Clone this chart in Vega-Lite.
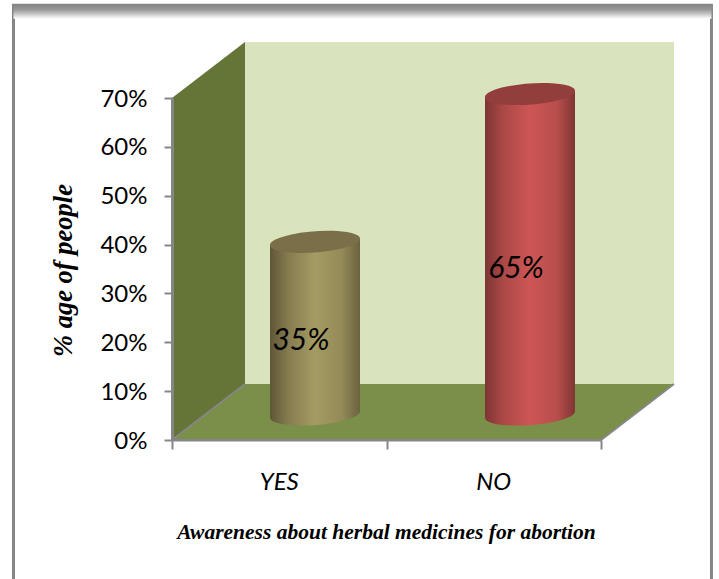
{
"$schema":"https://vega.github.io/schema/vega-lite/v6.json",
"width":429,"height":342,
"autosize":{"type":"none"},
"padding":{"left":172,"top":98,"right":118,"bottom":139},
"background":"white",
"config":{"view":{"stroke":null}},
"datasets":{
"frame":[{"x":-0.739,"x2":2.515,"y":89.0,"y2":-30}],
"band":[{"x":-0.739,"x2":2.515,"y":89.0,"y2":86.2}],
"back":[{"x":0.3403,"x2":2.3403,"y":11.46,"y2":81.46}],
"leftwall":[{"x":0,"y":0,"y2":70},{"x":0.3403,"y":11.46,"y2":81.46}],
"floor":[{"x":0,"y":0,"y2":0},{"x":0.3403,"y":0,"y2":11.46},{"x":2,"y":0,"y2":11.46},{"x":2.3403,"y":11.46,"y2":11.46}],
"edges":[{"edge":"left","x":0,"y":0},{"edge":"left","x":0.3403,"y":11.46},{"edge":"right","x":2,"y":0},{"edge":"right","x":2.3403,"y":11.46},{"edge":"front","x":0,"y":0},{"edge":"front","x":2,"y":0}],
"yesBody":[{"x":0.4569,"y":4.5,"y2":39.9},{"x":0.8765,"y":5.94,"y2":41.14}],
"noBody":[{"x":1.4592,"y":4.5,"y2":70.2},{"x":1.8788,"y":5.94,"y2":71.43}],
"yesBase":[{"x":0.6667,"y":5.22}],
"noBase":[{"x":1.669,"y":5.22}],
"yesTop":[{"x":0.6667,"y":40.55}],
"noTop":[{"x":1.669,"y":70.82}],
"values":[{"x":0.6014,"y":20.3,"label":"35%"},{"x":1.6037,"y":35.0,"label":"65%"}],
"cats":[{"x":0.5,"y":-8.8,"label":"YES"},{"x":1.5,"y":-8.8,"label":"NO"}]
},
"data":{"name":"frame"},
"encoding":{
"x":{"field":"x","type":"quantitative","scale":{"domain":[0,2],"nice":false,"zero":false},
"axis":{"values":[0,1,2],"labels":false,"grid":false,"domainColor":"#868686","domainWidth":2,"tickColor":"#868686","tickWidth":2,"tickSize":9,
"title":"Awareness about herbal medicines for abortion","titleFont":"Liberation Serif","titleFontStyle":"italic","titleFontWeight":"bold","titleFontSize":21.5,"titleColor":"#000","titleX":214,"titleY":81,"titleAnchor":"middle","zindex":1}},
"y":{"field":"y","type":"quantitative","stack":null,"scale":{"domain":[0,70],"nice":false,"zero":false},
"axis":{"values":[0,10,20,30,40,50,60,70],"labelExpr":"datum.value + '%'","labelFont":"Lato","labelFontSize":24,"labelColor":"#000","labelPadding":17,"labelOffset":1,"grid":false,"domainColor":"#868686","domainWidth":3,"tickColor":"#868686","tickWidth":2,"tickSize":8,
"title":"% age of people","titleFont":"Liberation Serif","titleFontStyle":"italic","titleFontWeight":"bold","titleFontSize":26.5,"titleColor":"#000","titleX":-95,"titleY":172,"titleAnchor":"middle","zindex":1}}
},
"layer":[
{"data":{"name":"frame"},"mark":{"type":"rect","fill":"white","stroke":"#868686","strokeWidth":3},"encoding":{"x2":{"field":"x2"},"y2":{"field":"y2"}}},
{"data":{"name":"band"},"mark":{"type":"rect","fill":{"gradient":"linear","x1":0,"y1":0,"x2":0,"y2":1,"stops":[{"offset":0,"color":"#868686"},{"offset":0.35,"color":"#9a9a9a"},{"offset":1,"color":"#ffffff"}]}},"encoding":{"x2":{"field":"x2"},"y2":{"field":"y2"}}},
{"data":{"name":"back"},"mark":{"type":"rect","fill":"#d9e4bf"},"encoding":{"x2":{"field":"x2"},"y2":{"field":"y2"}}},
{"data":{"name":"leftwall"},"mark":{"type":"area","orient":"vertical","fill":"#647537","opacity":1},"encoding":{"y2":{"field":"y2"}}},
{"data":{"name":"floor"},"mark":{"type":"area","orient":"vertical","fill":"#7a8f47","opacity":1},"encoding":{"y2":{"field":"y2"}}},
{"data":{"name":"edges"},"mark":{"type":"line","stroke":"#868686","strokeWidth":2},"encoding":{"detail":{"field":"edge"}}},
{"data":{"name":"yesBase"},"mark":{"type":"point","filled":true,"opacity":1,"size":8100,"shape":"M-1,0.075A1.003,0.23,-4.3,1,1,1,-0.075A1.003,0.23,-4.3,1,1,-1,0.075Z","fill":{"gradient":"linear","x1":0,"y1":0,"x2":1,"y2":0,"stops":[{"offset":0,"color":"#5f5637"},{"offset":0.2,"color":"#857b50"},{"offset":0.5,"color":"#a59b63"},{"offset":0.8,"color":"#938a58"},{"offset":1,"color":"#6a6140"}]}}},
{"data":{"name":"noBase"},"mark":{"type":"point","filled":true,"opacity":1,"size":8100,"shape":"M-1,0.075A1.003,0.23,-4.3,1,1,1,-0.075A1.003,0.23,-4.3,1,1,-1,0.075Z","fill":{"gradient":"linear","x1":0,"y1":0,"x2":1,"y2":0,"stops":[{"offset":0,"color":"#7d3533"},{"offset":0.2,"color":"#aa4846"},{"offset":0.5,"color":"#cd5655"},{"offset":0.8,"color":"#b84e4c"},{"offset":1,"color":"#7f3634"}]}}},
{"data":{"name":"yesBody"},"mark":{"type":"area","orient":"vertical","opacity":1,"fill":{"gradient":"linear","x1":0,"y1":0,"x2":1,"y2":0,"stops":[{"offset":0,"color":"#5f5637"},{"offset":0.2,"color":"#857b50"},{"offset":0.5,"color":"#a59b63"},{"offset":0.8,"color":"#938a58"},{"offset":1,"color":"#6a6140"}]}},"encoding":{"y2":{"field":"y2"}}},
{"data":{"name":"noBody"},"mark":{"type":"area","orient":"vertical","opacity":1,"fill":{"gradient":"linear","x1":0,"y1":0,"x2":1,"y2":0,"stops":[{"offset":0,"color":"#7d3533"},{"offset":0.2,"color":"#aa4846"},{"offset":0.5,"color":"#cd5655"},{"offset":0.8,"color":"#b84e4c"},{"offset":1,"color":"#7f3634"}]}},"encoding":{"y2":{"field":"y2"}}},
{"data":{"name":"yesTop"},"mark":{"type":"point","filled":true,"opacity":1,"size":8100,"fill":"#7a6f48","shape":"M-1,0.075A1.003,0.23,-4.3,1,1,1,-0.075A1.003,0.23,-4.3,1,1,-1,0.075Z"}},
{"data":{"name":"noTop"},"mark":{"type":"point","filled":true,"opacity":1,"size":8100,"fill":"#923e3c","shape":"M-1,0.075A1.003,0.23,-4.3,1,1,1,-0.075A1.003,0.23,-4.3,1,1,-1,0.075Z"}},
{"data":{"name":"values"},"mark":{"type":"text","font":"Lato","fontStyle":"italic","fontSize":30,"color":"#000","align":"center","baseline":"middle"},"encoding":{"text":{"field":"label"}}},
{"data":{"name":"cats"},"mark":{"type":"text","font":"Lato","fontStyle":"italic","fontSize":24,"color":"#000","align":"center","baseline":"middle"},"encoding":{"text":{"field":"label"}}}
]
}
